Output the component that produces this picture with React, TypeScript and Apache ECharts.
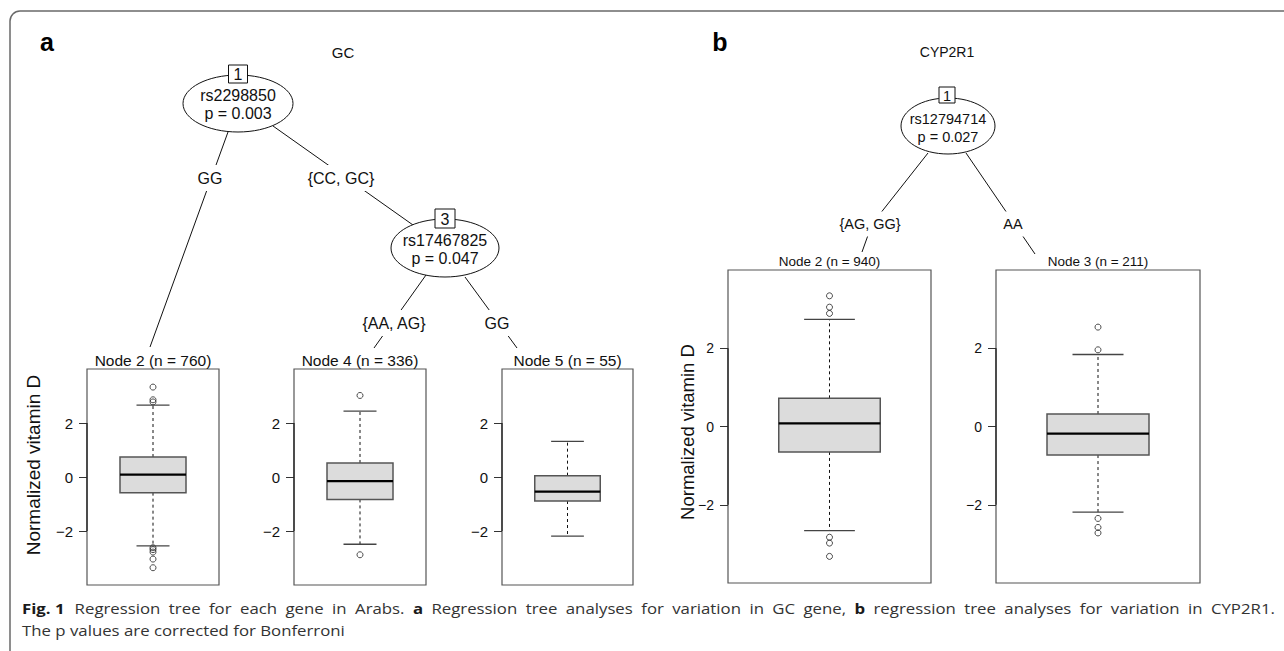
import React, { useEffect, useRef } from "react";
import * as echarts from "echarts";

// ---------- data ----------
const gcNodeLabels = ["Node 2 (n = 760)", "Node 4 (n = 336)", "Node 5 (n = 55)"];
// [lower whisker, Q1, median, Q3, upper whisker]
const gcNode2Box = [-2.55, -0.58, 0.09, 0.74, 2.66];
const gcNode4Box = [-2.49, -0.83, -0.15, 0.52, 2.44];
const gcNode5Box = [-2.19, -0.89, -0.54, 0.05, 1.32];
const gcNode2Out = [3.33, 2.86, 2.78, -2.62, -2.69, -2.78, -3.04, -3.36];
const gcNode4Out = [3.02, -2.88];
const gcNode5Out: number[] = [];

const cypNodeLabels = ["Node 2 (n = 940)", "Node 3 (n = 211)"];
const cypNode2Box = [-2.66, -0.65, 0.08, 0.72, 2.74];
const cypNode3Box = [-2.19, -0.73, -0.18, 0.32, 1.84];
const cypNode2Out = [3.34, 3.05, 2.89, -2.83, -2.98, -3.32];
const cypNode3Out = [2.54, 1.96, -2.35, -2.58, -2.72];

const yTicks = [-2, 0, 2];
const yMin = -4;
const yMax = 4;
const yTitle = "Normalized vitamin D";

const captionFig = "Fig. 1";
const captionLine1 =
  "Regression tree for each gene in Arabs. *a Regression tree analyses for variation in GC gene, *b regression tree analyses for variation in CYP2R1.";
const captionLine2 = "The p values are corrected for Bonferroni";

// ---------- layout ----------
const FONT = "Liberation Sans, Arial, Helvetica, sans-serif";
const CAPFONT = "Open Sans";
const A_FS = 16; // tree text, panel a
const B_FS = 14.5; // tree text, panel b
const panels = [
  { left: 87, top: 369, width: 132, height: 216, fs: 15.5, tfs: 15, label: gcNodeLabels[0], box: gcNode2Box, out: gcNode2Out },
  { left: 294, top: 369, width: 132, height: 216, fs: 15.5, tfs: 15, label: gcNodeLabels[1], box: gcNode4Box, out: gcNode4Out },
  { left: 502, top: 369, width: 131, height: 216, fs: 15.5, tfs: 15, label: gcNodeLabels[2], box: gcNode5Box, out: gcNode5Out },
  { left: 728, top: 270, width: 203, height: 313, fs: 13.5, tfs: 14, label: cypNodeLabels[0], box: cypNode2Box, out: cypNode2Out },
  { left: 996, top: 270, width: 204, height: 313, fs: 13.5, tfs: 14, label: cypNodeLabels[1], box: cypNode3Box, out: cypNode3Out },
];

function renderBox(params: any, api: any) {
  const cs = params.coordSys;
  const lo = api.value(1), q1 = api.value(2), med = api.value(3), q3 = api.value(4), hi = api.value(5);
  const cx = api.coord([0, med])[0];
  const y = (v: number) => api.coord([0, v])[1];
  const bw = cs.width * 0.5;
  const cw = cs.width * 0.25;
  const dash = { stroke: "#111", lineWidth: 1, lineDash: [3, 3] };
  return {
    type: "group",
    children: [
      { type: "line", shape: { x1: cs.x, y1: y(yTicks[yTicks.length - 1]), x2: cs.x, y2: y(yTicks[0]) }, style: { stroke: "#222", lineWidth: 1.3 } },
      { type: "line", shape: { x1: cx, y1: y(q3), x2: cx, y2: y(hi) }, style: dash },
      { type: "line", shape: { x1: cx, y1: y(q1), x2: cx, y2: y(lo) }, style: dash },
      { type: "line", shape: { x1: cx - cw / 2, y1: y(hi), x2: cx + cw / 2, y2: y(hi) }, style: { stroke: "#444", lineWidth: 1.3 } },
      { type: "line", shape: { x1: cx - cw / 2, y1: y(lo), x2: cx + cw / 2, y2: y(lo) }, style: { stroke: "#444", lineWidth: 1.3 } },
      { type: "rect", shape: { x: cx - bw / 2, y: y(q3), width: bw, height: y(q1) - y(q3) }, style: { fill: "#dcdcdc", stroke: "#555", lineWidth: 1.5 } },
      { type: "line", shape: { x1: cx - bw / 2, y1: y(med), x2: cx + bw / 2, y2: y(med) }, style: { stroke: "#000", lineWidth: 2.3 } },
    ],
  };
}

function measure(txt: string, font: string) {
  const c = document.createElement("canvas").getContext("2d")!;
  c.font = font;
  return c.measureText(txt).width;
}

function txt(x: number, y: number, text: string, fs: number, extra: any = {}) {
  return {
    type: "text",
    x,
    y,
    z: 10,
    style: { text, fontSize: fs, fontFamily: FONT, fill: "#111", align: "center", verticalAlign: "middle", ...extra },
  };
}

function edgeLabel(x: number, y: number, text: string, fs: number) {
  return txt(x, y, text, fs, { backgroundColor: "#fff", padding: [5, 3] });
}

function line(pts: number[][]) {
  return { type: "polyline", z: 5, shape: { points: pts }, style: { stroke: "#111", lineWidth: 1, fill: null } };
}

function ellipse(cx: number, cy: number, rx: number, ry: number) {
  return { type: "ellipse", z: 6, shape: { cx, cy, rx, ry }, style: { fill: "#fff", stroke: "#111", lineWidth: 1 } };
}

function idBox(cx: number, top: number, w: number, h: number, text: string, fs: number) {
  return [
    { type: "rect", z: 8, shape: { x: cx - w / 2, y: top, width: w, height: h }, style: { fill: "#fff", stroke: "#111", lineWidth: 1 } },
    txt(cx, top + h / 2 + 0.5, text, fs),
  ];
}

function captionElements(): any[] {
  const fs = 15;
  const capX = 22;
  const capRight = 1275;
  const figGap = 10;
  const extra = 4;
  const f = (b: boolean) => `${b ? "bold " : ""}${fs}px "${CAPFONT}"`;
  const words = captionLine1.split(" ").map((w) => (w.startsWith("*") ? { t: w.slice(1), b: true } : { t: w, b: false }));
  const gaps = words.length - 1;
  const figW0 = measure(captionFig, f(true));
  const spaceW0 = measure(" ", f(false));
  const wordsW0 = words.map((w) => measure(w.t, f(w.b)));
  const natural0 = figW0 + wordsW0.reduce((a, b) => a + b, 0) + gaps * spaceW0;
  const s = (capRight - capX - figGap - gaps * extra) / natural0;
  const mk = (x: number, y: number, text: string, bold: boolean) => ({
    type: "text",
    x,
    y,
    scaleX: s,
    z: 10,
    style: {
      text,
      fontSize: fs,
      fontFamily: CAPFONT,
      fontWeight: bold ? "bold" : "normal",
      fill: bold ? "#1a1a1a" : "#333",
      align: "left",
      verticalAlign: "middle",
    },
  });
  const els: any[] = [mk(capX, 608, captionFig, true)];
  let x = capX + figW0 * s + figGap;
  words.forEach((w, i) => {
    els.push(mk(x, 608, w.t, w.b));
    x += (wordsW0[i] + spaceW0) * s + extra;
  });
  els.push(mk(capX, 630, captionLine2, false));
  return els;
}

export default function App() {
  const ref = useRef<HTMLDivElement>(null);
  useEffect(() => {
    document.body.style.margin = "0";
    const chart = echarts.init(ref.current!, null, { renderer: "svg" });

    const grid = panels.map((p) => ({
      left: p.left,
      top: p.top,
      width: p.width,
      height: p.height,
      show: true,
      borderColor: "#555",
      borderWidth: 1.2,
      backgroundColor: "transparent",
    }));
    const xAxis = panels.map((p, i) => ({
      type: "category",
      gridIndex: i,
      data: [p.label],
      show: false,
    }));
    const yAxis = panels.map((p, i) => ({
      type: "value",
      gridIndex: i,
      min: yMin,
      max: yMax,
      axisLine: { show: false },
      splitLine: { show: false },
      axisTick: { show: true, customValues: yTicks, length: 8, lineStyle: { color: "#333", width: 1 } },
      axisLabel: {
        customValues: yTicks,
        margin: 14,
        fontSize: p.tfs,
        fontFamily: FONT,
        color: "#111",
        formatter: (v: number) => (v < 0 ? "\u2212" + Math.abs(v) : String(v)),
      },
    }));
    const series: any[] = [];
    panels.forEach((p, i) => {
      series.push({
        type: "custom",
        xAxisIndex: i,
        yAxisIndex: i,
        renderItem: renderBox,
        data: [[0, ...p.box]],
        encode: { x: 0, y: [1, 2, 3, 4, 5] },
        z: 2,
      });
      series.push({
        type: "scatter",
        xAxisIndex: i,
        yAxisIndex: i,
        symbol: "circle",
        symbolSize: 6,
        itemStyle: { color: "rgba(0,0,0,0)", borderColor: "#222", borderWidth: 1 },
        data: p.out.map((v) => [0, v]),
        z: 3,
      });
    });

    const graphic: any[] = [
      { type: "rect", z: 0, shape: { x: 10, y: 11, width: 1320, height: 680, r: 10 }, style: { fill: "none", stroke: "#6a6a6a", lineWidth: 1.5 } },
      // panel letters and titles
      txt(47, 42, "a", 25, { fontWeight: "bold", fill: "#000" }),
      txt(720, 42, "b", 25, { fontWeight: "bold", fill: "#000" }),
      txt(343, 52, "GC", 15),
      txt(947, 52, "CYP2R1", 14),
      // ---- GC tree edges
      line([[228, 132], [150, 347]]),
      line([[273, 126], [413, 225]]),
      line([[426, 275], [374, 348]]),
      line([[465, 277], [517, 348]]),
      ellipse(238, 103.5, 55, 28.5),
      ...idBox(238, 65, 19, 18, "1", A_FS),
      txt(238, 95, "rs2298850", A_FS),
      txt(238, 113, "p = 0.003", A_FS),
      ellipse(445, 248, 54, 29),
      ...idBox(445, 209, 20, 19, "3", A_FS),
      txt(445, 240, "rs17467825", A_FS),
      txt(445, 258, "p = 0.047", A_FS),
      edgeLabel(210, 178, "GG", A_FS),
      edgeLabel(341, 178, "{CC, GC}", A_FS),
      edgeLabel(394, 323, "{AA, AG}", A_FS),
      edgeLabel(497, 323, "GG", A_FS),
      // ---- CYP2R1 tree
      line([[928, 153], [872, 224], [862, 252]]),
      line([[966, 153], [1035, 254]]),
      ellipse(948, 126, 47, 28),
      ...idBox(947, 87, 16, 16, "1", B_FS),
      txt(948, 119, "rs12794714", B_FS),
      txt(948, 137, "p = 0.027", B_FS),
      edgeLabel(870, 224, "{AG, GG}", B_FS),
      edgeLabel(1013, 224, "AA", B_FS),
      // node labels
      ...panels.map((p) => txt(p.left + p.width / 2, p.top - 9, p.label, p.fs)),
      // y titles
      { type: "text", x: 33, y: 465, rotation: Math.PI / 2, z: 10, style: { text: yTitle, fontSize: 19, fontFamily: FONT, fill: "#111", align: "center", verticalAlign: "middle" } },
      { type: "text", x: 687, y: 432, rotation: Math.PI / 2, z: 10, style: { text: yTitle, fontSize: 18.5, fontFamily: FONT, fill: "#111", align: "center", verticalAlign: "middle" } },
      // caption
      ...captionElements(),
    ];

    chart.setOption({
      animation: false,
      textStyle: { fontFamily: FONT },
      grid,
      xAxis,
      yAxis,
      series,
      graphic,
    });
    return () => chart.dispose();
  }, []);
  return <div ref={ref} style={{ position: "fixed", left: 0, top: 0, width: 1284, height: 651, background: "#fff" }} />;
}
